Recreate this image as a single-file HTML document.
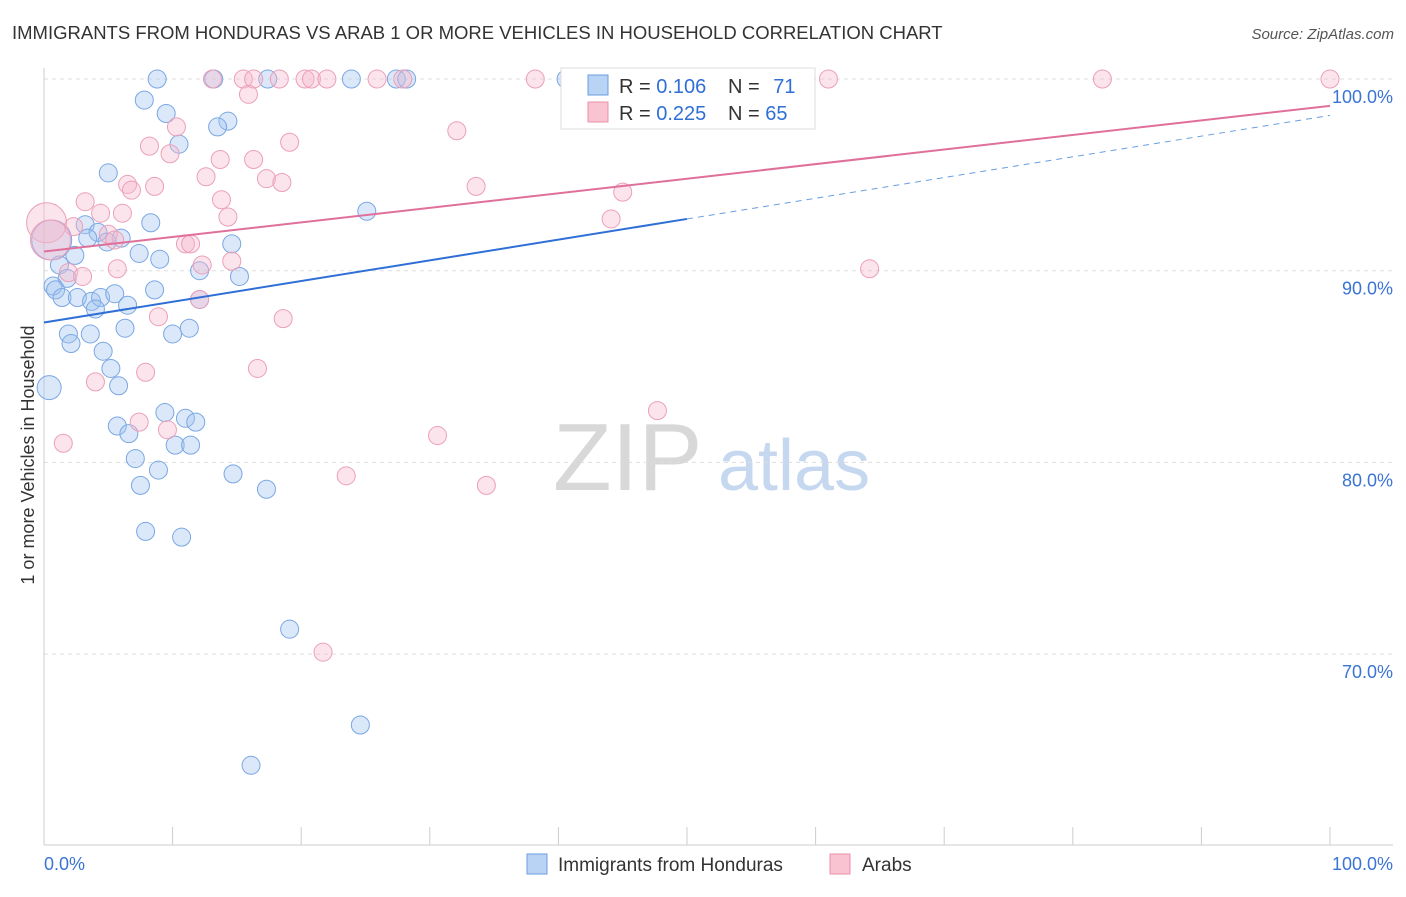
<!DOCTYPE html>
<html><head><meta charset="utf-8"><style>
body{margin:0;background:#fff;font-family:"Liberation Sans",sans-serif;}
svg text{font-family:"Liberation Sans",sans-serif;}
</style></head><body>
<svg id="chart" width="1406" height="892" viewBox="0 0 1406 892">
<text x="12" y="39" font-size="18.5" fill="#333">IMMIGRANTS FROM HONDURAS VS ARAB 1 OR MORE VEHICLES IN HOUSEHOLD CORRELATION CHART</text>
<text x="1394" y="39" font-size="15" fill="#555" font-style="italic" text-anchor="end">Source: ZipAtlas.com</text>
<g>
<text x="553" y="490" font-size="96" fill="#d8d8d8" font-family="Liberation Serif, serif">ZIP</text>
<text x="718" y="490" font-size="72" fill="#c6d8f0">atlas</text>
</g>
<g id="grid"></g>
<g id="axes"></g>
<g id="pts"></g>
<g id="lines"></g>
<text transform="translate(34,455) rotate(-90)" font-size="18" fill="#333" text-anchor="middle">1 or more Vehicles in Household</text>
<g>
<rect x="561" y="68" width="254" height="61" fill="#fff" stroke="#ddd"/>
<rect x="588" y="75" width="20" height="20" fill="#b9d3f5" stroke="#6a9ee0"/>
<text x="619" y="93" font-size="20" fill="#333">R = <tspan fill="#2f6fd6">0.106</tspan></text>
<text x="728" y="93" font-size="20" fill="#333">N = <tspan fill="#2f6fd6" dx="8">71</tspan></text>
<rect x="588" y="102" width="20" height="20" fill="#fac3d2" stroke="#e890a8"/>
<text x="619" y="120" font-size="20" fill="#333">R = <tspan fill="#2f6fd6">0.225</tspan></text>
<text x="728" y="120" font-size="20" fill="#333">N = <tspan fill="#2f6fd6">65</tspan></text>
</g>
<g>
<rect x="527" y="854" width="20" height="20" fill="#b9d3f5" stroke="#6a9ee0"/>
<text x="558" y="871" font-size="19" fill="#333">Immigrants from Honduras</text>
<rect x="830" y="854" width="20" height="20" fill="#fac3d2" stroke="#e890a8"/>
<text x="862" y="871" font-size="19" fill="#333">Arabs</text>
</g>
</svg>
<script>
const yTicks=[100,90,80,70];
const yTickLabels=["100.0%","90.0%","80.0%","70.0%"];
const blueX=[8.8,13.2,17.4,23.9,27.4,28.2,40.6,7.8,9.5,14.3,13.5,10.5,5.0,25.1,8.3,3.2,4.2,3.4,6.0,4.9,14.6,0.6,7.4,9.0,2.4,1.2,12.1,15.2,1.8,0.7,0.9,8.6,1.4,2.6,3.7,4.4,5.5,12.1,6.5,4.0,1.9,3.6,6.3,10.0,11.3,2.1,4.6,5.2,0.4,5.8,9.4,11.0,11.8,5.7,6.6,10.2,11.4,7.1,8.9,14.7,7.5,17.3,7.9,10.7,19.1,24.6,16.1];
const blueY=[100,100,100,100,100,100,100,98.9,98.2,97.8,97.5,96.6,95.1,93.1,92.5,92.4,92.0,91.7,91.7,91.5,91.4,91.6,90.9,90.6,90.8,90.3,90.0,89.7,89.6,89.2,89.0,89.0,88.6,88.6,88.4,88.6,88.8,88.5,88.2,88.0,86.7,86.7,87.0,86.7,87.0,86.2,85.8,84.9,83.9,84.0,82.6,82.3,82.1,81.9,81.5,80.9,80.9,80.2,79.6,79.4,78.8,78.6,76.4,76.1,71.3,66.3,64.2];
const pinkX=[13.1,15.5,16.3,18.3,20.3,20.8,22.0,25.9,27.9,38.2,47.0,61.0,82.3,100,15.9,10.3,32.1,8.2,9.8,19.1,13.7,16.3,12.6,17.3,6.5,8.6,18.5,6.8,33.6,45.0,13.8,3.2,4.4,6.1,14.3,44.1,0.2,2.3,0.5,5.0,5.5,11.0,11.4,12.3,14.6,5.7,64.2,1.9,3.0,12.1,18.6,8.9,4.0,7.9,16.6,47.7,7.4,9.6,30.6,1.5,23.5,34.4,21.7];
const pinkY=[100,100,100,100,100,100,100,100,100,100,100,100,100,100,99.2,97.5,97.3,96.5,96.1,96.7,95.8,95.8,94.9,94.8,94.5,94.4,94.6,94.2,94.4,94.1,93.7,93.6,93.0,93.0,92.8,92.7,92.5,92.3,91.6,91.9,91.6,91.4,91.4,90.3,90.5,90.1,90.1,89.9,89.7,88.5,87.5,87.6,84.2,84.7,84.9,82.7,82.1,81.7,81.4,81.0,79.3,78.8,70.1];
const blueTrend=[87.3,98.1];
const pinkTrend=[91.0,98.6];
const NS="http://www.w3.org/2000/svg";
const xs=v=>44+v*12.86;
const ys=v=>79+(100-v)*19.17;
function mk(tag,attrs,parent){const e=document.createElementNS(NS,tag);for(const k in attrs)e.setAttribute(k,attrs[k]);document.getElementById(parent).appendChild(e);return e;}
yTicks.forEach((t,i)=>{
  const g=mk('line',{x1:44,x2:1393,y1:ys(t),y2:ys(t),stroke:'#ddd','stroke-dasharray':'4,4'},'grid');
  
  
  const l=mk('text',{x:1393,y:ys(t)+24,'font-size':18,fill:'#3a74d4','text-anchor':'end'},'grid');
  l.textContent=yTickLabels[i];
  
  
});
const ax=mk('line',{x1:44,x2:1393,y1:845,y2:845,stroke:'#ccc'},'axes');


const ay=mk('line',{x1:44,x2:44,y1:68,y2:845,stroke:'#ccc'},'axes');


for(let i=0;i<=10;i++){
  const t=mk('line',{x1:xs(i*10),x2:xs(i*10),y1:827,y2:845,stroke:'#ccc'},'axes');
  
  
}
const x0=mk('text',{x:44,y:870,'font-size':18,fill:'#3a74d4'},'axes');x0.textContent='0.0%';


const x1=mk('text',{x:1393,y:870,'font-size':18,fill:'#3a74d4','text-anchor':'end'},'axes');x1.textContent='100.0%';


function big(x,y){return (x<1&&y>91&&y<93)?20:(x<1&&y<85)?12:(x<1&&y>91)?14:9;}
blueX.forEach((x,i)=>{
  const c=mk('circle',{cx:xs(x),cy:ys(blueY[i]),r:big(x,blueY[i]),fill:'rgba(160,195,240,0.38)',stroke:'#7aa7e4','stroke-width':1},'pts');
  
  
});
pinkX.forEach((x,i)=>{
  const c=mk('circle',{cx:xs(x),cy:ys(pinkY[i]),r:big(x,pinkY[i]),fill:'rgba(248,185,205,0.38)',stroke:'#eba0b8','stroke-width':1},'pts');
  
  
});
const bAt=v=>blueTrend[0]+(blueTrend[1]-blueTrend[0])*v/100;
const b1=mk('line',{x1:xs(0),y1:ys(bAt(0)),x2:xs(50),y2:ys(bAt(50)),stroke:'#2f6fd6','stroke-width':2},'lines');


const b2=mk('line',{x1:xs(50),y1:ys(bAt(50)),x2:xs(100),y2:ys(bAt(100)),stroke:'#6a9ee0','stroke-width':1,'stroke-dasharray':'6,5'},'lines');


const p1=mk('line',{x1:xs(0),y1:ys(pinkTrend[0]),x2:xs(100),y2:ys(pinkTrend[1]),stroke:'#e0709a','stroke-width':2},'lines');


</script>
</body></html>
